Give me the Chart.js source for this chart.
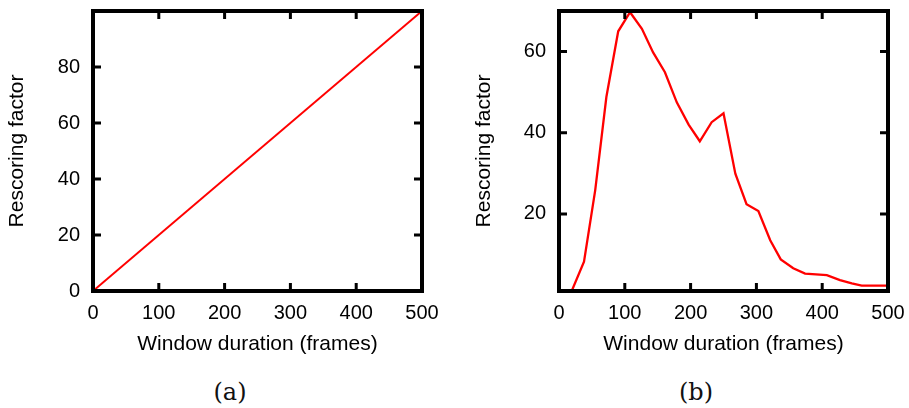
<!DOCTYPE html>
<html>
<head>
<meta charset="utf-8">
<script src="https://cdn.jsdelivr.net/npm/chart.js@4.4.1/dist/chart.umd.min.js"></script>
<style>
  html, body { margin: 0; padding: 0; background: #fff; }
  body { width: 909px; height: 408px; position: relative; overflow: hidden; }
  canvas { position: absolute; top: 0; }
  #chartA { left: 0; }
  #chartB { left: 454px; }
  .caption {
    position: absolute; top: 378px; width: 80px; text-align: center;
    font-family: "DejaVu Serif", serif; font-size: 24px; color: #111;
  }
</style>
</head>
<body>
<canvas id="chartA" width="454" height="365"></canvas>
<canvas id="chartB" width="455" height="365"></canvas>
<div class="caption" style="left:190px">(a)</div>
<div class="caption" style="left:656px">(b)</div>
<script>
// (a) linear rescoring factor vs window length
const linearX = [0, 500];
const linearY = [0, 100];

// (b) measured rescoring factor vs window length
const windowX = [18, 38, 55, 72, 90, 108, 126, 143, 161, 179, 197, 214, 232, 250,
                 268, 285, 303, 321, 337, 356, 374, 407, 427, 445, 460, 500];
const rescoreY = [0.5, 8.2, 25.8, 48.8, 65, 69.7, 65.6, 59.8, 54.9, 47.5, 42, 37.9, 42.6, 44.8,
                  29.9, 22.4, 20.7, 13.5, 8.8, 6.6, 5.3, 4.9, 3.7, 2.9, 2.3, 2.3];

const xTicks = [0, 100, 200, 300, 400, 500];
const yTicksA = [0, 20, 40, 60, 80];
const yTicksB = [20, 40, 60];

const FONT = 'Liberation Sans, Arial, sans-serif';

// heavy frame with short inward ticks on all four sides
const framePlugin = {
  id: 'frame',
  afterDraw(chart) {
    const { ctx, chartArea: a, scales } = chart;
    const len = 8;
    ctx.save();
    ctx.strokeStyle = '#000';
    ctx.lineWidth = 3;
    ctx.beginPath();
    scales.x.ticks.forEach(t => {
      const px = scales.x.getPixelForValue(t.value);
      ctx.moveTo(px, a.bottom); ctx.lineTo(px, a.bottom - len);
      ctx.moveTo(px, a.top); ctx.lineTo(px, a.top + len);
    });
    scales.y.ticks.forEach(t => {
      const py = scales.y.getPixelForValue(t.value);
      ctx.moveTo(a.left, py); ctx.lineTo(a.left + len, py);
      ctx.moveTo(a.right, py); ctx.lineTo(a.right - len, py);
    });
    ctx.stroke();
    ctx.lineWidth = 4;
    ctx.strokeRect(a.left, a.top, a.right - a.left, a.bottom - a.top);
    ctx.restore();
  }
};

function makeChart(id, xs, ys, yMin, yMax, yTicks, yAxisWidth, padRight, yTitlePad, lineWidth) {
  const points = xs.map((x, i) => ({ x: x, y: ys[i] }));
  return new Chart(document.getElementById(id), {
    type: 'line',
    data: {
      datasets: [{
        data: points,
        borderColor: '#ff0000',
        borderWidth: lineWidth,
        pointRadius: 0,
        tension: 0,
        fill: false
      }]
    },
    options: {
      responsive: false,
      animation: false,
      events: [],
      layout: { padding: { top: 11, right: padRight, left: 0, bottom: 0 } },
      plugins: { legend: { display: false }, tooltip: { enabled: false } },
      scales: {
        x: {
          type: 'linear',
          min: 0, max: 500,
          afterBuildTicks: s => { s.ticks = xTicks.map(v => ({ value: v })); },
          afterFit: s => { s.height = 74; s.paddingLeft = 0; s.paddingRight = 0; },
          border: { display: false },
          grid: { display: false, drawTicks: false },
          ticks: { color: '#000', padding: 10, maxRotation: 0, font: { family: FONT, size: 20 } },
          title: {
            display: true, text: 'Window duration (frames)', color: '#000',
            padding: { top: 0, bottom: 8 }, font: { family: FONT, size: 21 }
          }
        },
        y: {
          type: 'linear',
          min: yMin, max: yMax,
          afterBuildTicks: s => { s.ticks = yTicks.map(v => ({ value: v })); },
          afterFit: s => { s.width = yAxisWidth; s.paddingTop = 0; s.paddingBottom = 0; },
          border: { display: false },
          grid: { display: false, drawTicks: false },
          ticks: { color: '#000', padding: 13, font: { family: FONT, size: 20 } },
          title: {
            display: true, text: 'Rescoring factor', color: '#000',
            padding: { top: yTitlePad, bottom: 0 }, font: { family: FONT, size: 21 }
          }
        }
      }
    },
    plugins: [framePlugin]
  });
}

makeChart('chartA', linearX, linearY, 0, 100, yTicksA, 93, 32, 5, 2);
makeChart('chartB', windowX, rescoreY, 1, 70, yTicksB, 105, 21, 18, 2.3);
</script>
</body>
</html>
